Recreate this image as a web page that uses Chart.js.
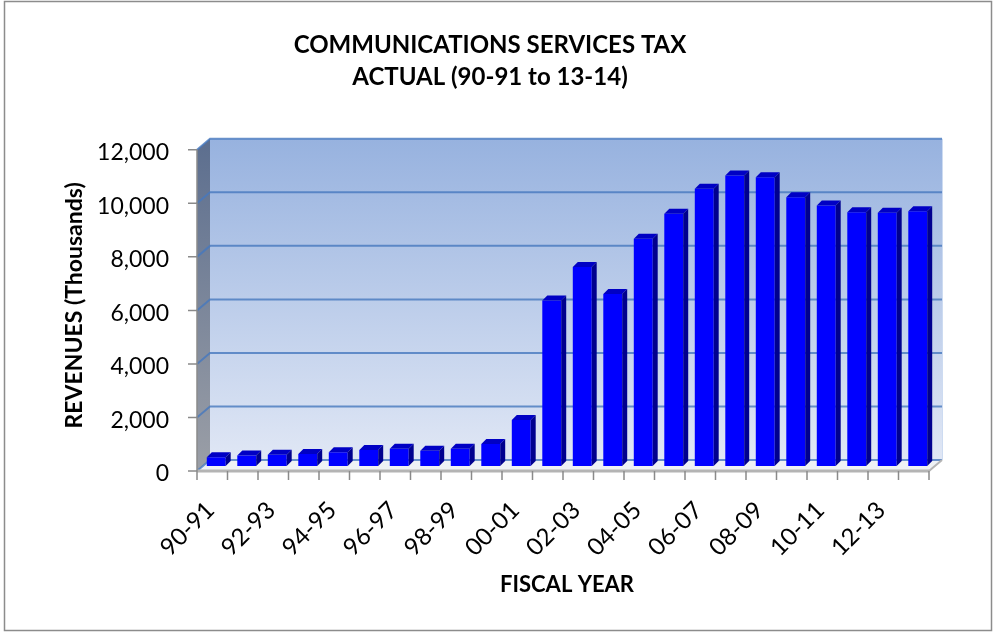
<!DOCTYPE html>
<html>
<head>
<meta charset="utf-8">
<title>Communications Services Tax</title>
<script src="https://cdn.jsdelivr.net/npm/chart.js@4.4.1/dist/chart.umd.min.js"></script>
<style>
  html, body { margin: 0; padding: 0; background: #fff; }
  #wrap { width: 996px; height: 634px; position: relative; }
</style>
</head>
<body>
<div id="wrap"><canvas id="chart" width="996" height="634"></canvas></div>
<script>
// fiscal years and revenues (thousands)
const fiscalYears = ['90-91', '91-92', '92-93', '93-94', '94-95', '95-96', '96-97', '97-98',
    '98-99', '99-00', '00-01', '01-02', '02-03', '03-04', '04-05', '05-06', '06-07', '07-08',
    '08-09', '09-10', '10-11', '11-12', '12-13', '13-14'];
const revenues = [330, 390, 420, 450, 510, 600, 640, 570, 640, 820, 1720, 6180, 7430, 6430,
    8490, 9420, 10360, 10850, 10790, 10040, 9730, 9480, 9460, 9520];
const yTicks = [0, 2000, 4000, 6000, 8000, 10000, 12000];

const titleLines = ['COMMUNICATIONS SERVICES TAX', 'ACTUAL (90-91 to 13-14)'];

Chart.defaults.font.family = 'Lato, "Liberation Sans", sans-serif';
Chart.defaults.color = '#000';

// offsets of the back wall and the front edge relative to the bar plane
const BACK = { x: 9, y: -6 };
const FRONT = { x: -4, y: 5 };
const BAR_DEPTH = 5;

function quad(ctx, pts, fill, stroke) {
    ctx.beginPath();
    ctx.moveTo(pts[0][0], pts[0][1]);
    for (let i = 1; i < pts.length; i++) ctx.lineTo(pts[i][0], pts[i][1]);
    ctx.closePath();
    if (fill) { ctx.fillStyle = fill; ctx.fill(); }
    if (stroke) { ctx.strokeStyle = stroke; ctx.stroke(); }
}

const box3d = {
    id: 'box3d',
    beforeDraw(chart) {
        const ctx = chart.ctx;
        ctx.save();
        ctx.strokeStyle = '#8c8c8c';
        ctx.lineWidth = 1.5;
        ctx.strokeRect(4.5, 1.5, 987, 629);
        ctx.restore();
    },
    beforeDatasetsDraw(chart) {
        const ctx = chart.ctx;
        const { left: L, right: R, top: T, bottom: B } = chart.chartArea;
        const y = chart.scales.y;
        ctx.save();

        // back wall
        let g = ctx.createLinearGradient(0, T + BACK.y, 0, B + BACK.y);
        g.addColorStop(0, '#97b2df');
        g.addColorStop(1, '#e0e7f5');
        ctx.fillStyle = g;
        ctx.fillRect(L + BACK.x, T + BACK.y, R - L, B - T);

        // side wall
        g = ctx.createLinearGradient(0, T, 0, B);
        g.addColorStop(0, '#5d6f8f');
        g.addColorStop(1, '#9a9ea6');
        quad(ctx, [[L + FRONT.x, T + FRONT.y], [L + BACK.x, T + BACK.y],
            [L + BACK.x, B + BACK.y], [L + FRONT.x, B + FRONT.y]], g);

        // floor
        quad(ctx, [[L + FRONT.x, B + FRONT.y], [R + FRONT.x, B + FRONT.y],
            [R + BACK.x, B + BACK.y], [L + BACK.x, B + BACK.y]], '#eef1f5');

        // gridlines on the back and side walls
        ctx.lineWidth = 2;
        ctx.strokeStyle = 'rgba(70, 120, 190, 0.8)';
        yTicks.forEach(v => {
            const py = y.getPixelForValue(v);
            ctx.beginPath();
            ctx.moveTo(L + FRONT.x, py + FRONT.y);
            ctx.lineTo(L + BACK.x, py + BACK.y);
            ctx.lineTo(R + BACK.x, py + BACK.y);
            ctx.stroke();
        });
        ctx.strokeStyle = 'rgba(200, 215, 240, 0.9)';
        ctx.lineWidth = 1;
        ctx.beginPath();
        ctx.moveTo(R + BACK.x + 0.5, T + BACK.y);
        ctx.lineTo(R + BACK.x + 0.5, B + BACK.y);
        ctx.stroke();

        // floor edges
        ctx.strokeStyle = '#b4b4b4';
        ctx.lineWidth = 2;
        ctx.beginPath();
        ctx.moveTo(R + FRONT.x, B + FRONT.y);
        ctx.lineTo(R + BACK.x, B + BACK.y);
        ctx.stroke();
        ctx.lineWidth = 3;
        ctx.beginPath();
        ctx.moveTo(L + FRONT.x, B + FRONT.y);
        ctx.lineTo(R + FRONT.x, B + FRONT.y);
        ctx.stroke();

        // front value axis with tick marks
        ctx.strokeStyle = '#8a8a8a';
        ctx.lineWidth = 1.5;
        ctx.beginPath();
        ctx.moveTo(L + FRONT.x, T + FRONT.y);
        ctx.lineTo(L + FRONT.x, B + FRONT.y);
        yTicks.forEach(v => {
            const py = y.getPixelForValue(v) + FRONT.y;
            ctx.moveTo(L + FRONT.x - 9, py);
            ctx.lineTo(L + FRONT.x, py);
        });
        // category tick marks along the front floor edge
        const n = fiscalYears.length;
        for (let i = 0; i <= n; i++) {
            const px = L + FRONT.x + i * (R - L) / n;
            ctx.moveTo(px, B + FRONT.y);
            ctx.lineTo(px, B + FRONT.y + 9);
        }
        ctx.stroke();
        ctx.restore();
    },
    afterDatasetsDraw(chart) {
        const ctx = chart.ctx;
        const d = BAR_DEPTH;
        ctx.save();
        chart.getDatasetMeta(0).data.forEach(bar => {
            const { x, y, base, width } = bar.getProps(['x', 'y', 'base', 'width'], true);
            const l = x - width / 2, r = x + width / 2;
            quad(ctx, [[l, y], [l + d, y - d], [r + d, y - d], [r, y]], '#0000c4');
            quad(ctx, [[r, y], [r + d, y - d], [r + d, base - d], [r, base]], '#00008f');
        });
        ctx.restore();
    }
};

const ctx = document.getElementById('chart').getContext('2d');
new Chart(ctx, {
    type: 'bar',
    data: {
        labels: fiscalYears,
        datasets: [{
            label: 'Revenues',
            data: revenues,
            backgroundColor: '#0000ff',
            borderWidth: 0,
            barPercentage: 0.62,
            categoryPercentage: 1.0
        }]
    },
    options: {
        responsive: false,
        animation: false,
        layout: { padding: { left: 0, right: 16, top: 0, bottom: 0 } },
        plugins: {
            legend: { display: false },
            tooltip: { enabled: false },
            title: {
                display: true,
                text: titleLines,
                font: { size: 24, weight: 'bold', lineHeight: 1.35 },
                padding: { top: 29, bottom: 51 },
                color: '#000'
            }
        },
        scales: {
            x: {
                grid: { display: false, drawTicks: false },
                border: { display: false },
                ticks: {
                    autoSkip: false,
                    minRotation: 45,
                    maxRotation: 45,
                    padding: 30,
                    labelOffset: -6,
                    font: { size: 24 },
                    color: '#000',
                    callback: (v, i) => i % 2 === 0 ? fiscalYears[i] : ''
                },
                title: {
                    display: true,
                    text: 'FISCAL YEAR',
                    font: { size: 22, weight: 'bold' },
                    padding: { top: 0, bottom: 36 },
                    color: '#000'
                },
                afterFit: s => { s.height = 168; }
            },
            y: {
                min: 0,
                max: 12000,
                grid: { display: false, drawTicks: false },
                border: { display: false },
                afterBuildTicks: s => { s.ticks = yTicks.map(v => ({ value: v })); },
                ticks: {
                    padding: 32,
                    labelOffset: 8,
                    font: { size: 23 },
                    color: '#000',
                    callback: v => v.toLocaleString('en-US')
                },
                title: {
                    display: true,
                    text: 'REVENUES (Thousands)',
                    font: { size: 23, weight: 'bold' },
                    padding: { top: 61, bottom: 0 },
                    color: '#000'
                },
                afterFit: s => { s.width = 201; }
            },
            // empty right-hand margin so the title centres over the whole frame
            margin: {
                position: 'right',
                grid: { display: false },
                border: { display: false },
                ticks: { display: false },
                afterFit: s => { s.width = 47; }
            }
        }
    },
    plugins: [box3d]
});
</script>
</body>
</html>
